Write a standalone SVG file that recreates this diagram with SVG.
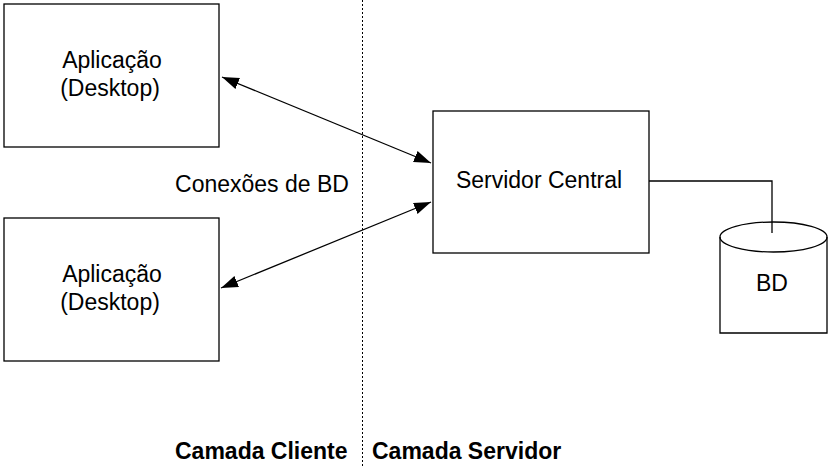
<svg xmlns="http://www.w3.org/2000/svg" width="833" height="466" viewBox="0 0 833 466">
<style>
.box{fill:#fff;stroke:#000;stroke-width:1.3}
.t{font-family:"Liberation Sans",Arial,sans-serif;font-size:23px;fill:#000;text-anchor:middle}
.b{font-family:"Liberation Sans",Arial,sans-serif;font-size:23px;font-weight:bold;fill:#000}
.ln{fill:none;stroke:#000;stroke-width:1.3}
</style>
<defs>
<marker id="ah" markerUnits="userSpaceOnUse" markerWidth="18" markerHeight="14" refX="17" refY="6" orient="auto-start-reverse">
<path d="M0,0 L17,6 L0,12 z" fill="#000"/>
</marker>
</defs>
<rect width="833" height="466" fill="#fff"/>
<g id="divider">
<line x1="362.5" y1="0" x2="362.5" y2="466" stroke="#000" stroke-width="1" stroke-dasharray="2,2"/>
</g>
<g id="app1">
<rect class="box" x="4" y="4" width="215" height="143"/>
<text class="t" x="112" y="68">Aplicação</text>
<text class="t" x="110" y="96">(Desktop)</text>
</g>
<g id="app2">
<rect class="box" x="4" y="218" width="215" height="143"/>
<text class="t" x="112" y="282">Aplicação</text>
<text class="t" x="110" y="310">(Desktop)</text>
</g>
<g id="server">
<rect class="box" x="433" y="111" width="216" height="142"/>
<text class="t" x="539" y="188">Servidor Central</text>
</g>
<g id="db">
<path class="ln" d="M720,237 L720,333 L827,333 L827,237"/>
<ellipse class="ln" cx="773.5" cy="237" rx="53.5" ry="15"/>
<text class="t" x="772" y="291">BD</text>
</g>
<g id="connectors">
<line class="ln" x1="222" y1="77" x2="431" y2="163" marker-start="url(#ah)" marker-end="url(#ah)"/>
<line class="ln" x1="431" y1="202" x2="221" y2="288" marker-start="url(#ah)" marker-end="url(#ah)"/>
<path class="ln" d="M649,181 L772,181 L772,233"/>
</g>
<g id="labels">
<text class="t" x="262" y="192">Conexões de BD</text>
<text class="b" x="175" y="459">Camada Cliente</text>
<text class="b" x="372" y="459">Camada Servidor</text>
</g>
</svg>
